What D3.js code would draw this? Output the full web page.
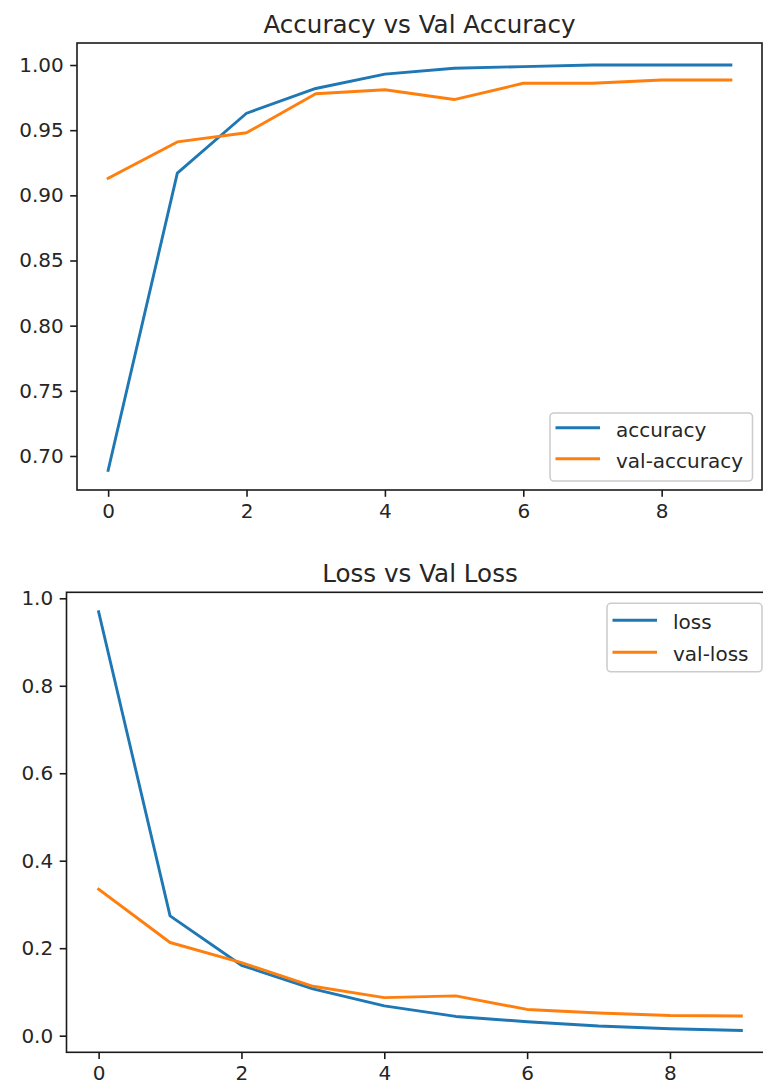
<!DOCTYPE html>
<html>
<head>
<meta charset="utf-8">
<script src="https://cdn.jsdelivr.net/npm/d3@7"></script>
<style>
  html, body { margin: 0; padding: 0; background: #fff; }
  svg { display: block; }
  text { font-family: "DejaVu Sans", sans-serif; fill: #262626; }
</style>
</head>
<body>
<svg id="chart" width="763" height="1088"></svg>
<script>
// ---- data ----
const epochs = [0, 1, 2, 3, 4, 5, 6, 7, 8, 9];
const accuracy = [0.689, 0.917, 0.963, 0.982, 0.993, 0.9975, 0.9988, 1.0, 1.0, 1.0];
const valAccuracy = [0.913, 0.941, 0.948, 0.978, 0.981, 0.9735, 0.986, 0.986, 0.9885, 0.9885];
const loss = [0.969, 0.274, 0.161, 0.107, 0.068, 0.044, 0.032, 0.022, 0.016, 0.012];
const valLoss = [0.335, 0.213, 0.167, 0.113, 0.087, 0.091, 0.060, 0.052, 0.046, 0.045];
const xTicks = [0, 2, 4, 6, 8];
const accTicks = [0.70, 0.75, 0.80, 0.85, 0.90, 0.95, 1.00];
const lossTicks = [0.0, 0.2, 0.4, 0.6, 0.8, 1.0];
const accLabels = ["accuracy", "val-accuracy"];
const lossLabels = ["loss", "val-loss"];
const colors = ["#1f77b4", "#ff7f0e"];

const svg = d3.select("#chart");
const TICK_FS = 20, TITLE_FS = 24.6;

function panel(cfg) {
  const x = d3.scaleLinear().domain([-0.45, 9.45]).range([cfg.left, cfg.right]);
  const y = d3.scaleLinear().domain(cfg.yDomain).range([cfg.bottom, cfg.top]);
  const g = svg.append("g");

  const clipId = "clip" + cfg.id;
  svg.append("defs").append("clipPath").attr("id", clipId)
    .append("rect").attr("x", cfg.left).attr("y", cfg.top)
    .attr("width", cfg.right - cfg.left).attr("height", cfg.bottom - cfg.top);

  const line = d3.line().x((d, i) => x(epochs[i])).y(d => y(d));
  cfg.series.forEach((s, i) => {
    g.append("path").datum(s)
      .attr("clip-path", `url(#${clipId})`)
      .attr("d", line)
      .attr("fill", "none")
      .attr("stroke", colors[i])
      .attr("stroke-width", 2.9)
      .attr("stroke-linejoin", "round")
      .attr("stroke-linecap", "square");
  });

  const xAxis = d3.axisBottom(x).tickValues(xTicks).tickFormat(d3.format("d"))
    .tickSize(6.8).tickPadding(6.8);
  const yAxis = d3.axisLeft(y).tickValues(cfg.yTicks).tickFormat(d3.format(cfg.fmt))
    .tickSize(6.8).tickPadding(6.5);
  const gx = g.append("g").attr("transform", `translate(0,${cfg.bottom})`).call(xAxis);
  const gy = g.append("g").attr("transform", `translate(${cfg.left},0)`).call(yAxis);
  [gx, gy].forEach(a => {
    a.select(".domain").remove();
    a.selectAll(".tick line").attr("stroke", "#1a1a1a").attr("stroke-width", 1.6);
    a.selectAll(".tick text").style("font-family", "DejaVu Sans").style("font-size", TICK_FS + "px")
      .attr("fill", "#262626");
  });

  g.append("rect")
    .attr("x", cfg.left).attr("y", cfg.top)
    .attr("width", cfg.right - cfg.left).attr("height", cfg.bottom - cfg.top)
    .attr("fill", "none").attr("stroke", "#1a1a1a").attr("stroke-width", 1.6);

  g.append("text")
    .attr("x", (cfg.left + cfg.right) / 2).attr("y", cfg.titleY)
    .attr("text-anchor", "middle")
    .style("font-size", TITLE_FS + "px")
    .text(cfg.title);

  const L = cfg.legend;
  const lg = g.append("g");
  lg.append("rect")
    .attr("x", L.x).attr("y", L.y).attr("width", L.w).attr("height", L.h)
    .attr("rx", 4).attr("ry", 4)
    .attr("fill", "#fff").attr("fill-opacity", 0.8)
    .attr("stroke", "#cccccc").attr("stroke-width", 1.56);
  cfg.labels.forEach((lab, i) => {
    const cy = L.y + L.row0 + i * L.rowGap;
    lg.append("line")
      .attr("x1", L.x + 5.5).attr("x2", L.x + 50)
      .attr("y1", cy).attr("y2", cy)
      .attr("stroke", colors[i]).attr("stroke-width", 2.9);
    lg.append("text")
      .attr("x", L.x + 66).attr("y", cy + 9)
      .style("font-size", TICK_FS + "px")
      .text(lab);
  });
}

panel({
  id: 1, left: 77, right: 762, top: 43, bottom: 490,
  yDomain: [0.6739, 1.0169], yTicks: accTicks, fmt: ".2f",
  series: [accuracy, valAccuracy], labels: accLabels,
  title: "Accuracy vs Val Accuracy", titleY: 32.5,
  legend: { x: 550, y: 413, w: 202.5, h: 68, row0: 14.7, rowGap: 31 }
});

panel({
  id: 2, left: 66.5, right: 773.5, top: 592.3, bottom: 1052.3,
  yDomain: [-0.038, 1.0137], yTicks: lossTicks, fmt: ".1f",
  series: [loss, valLoss], labels: lossLabels,
  title: "Loss vs Val Loss", titleY: 581.5,
  legend: { x: 607, y: 603.3, w: 155, h: 68.5, row0: 17, rowGap: 32 }
});
</script>
</body>
</html>
